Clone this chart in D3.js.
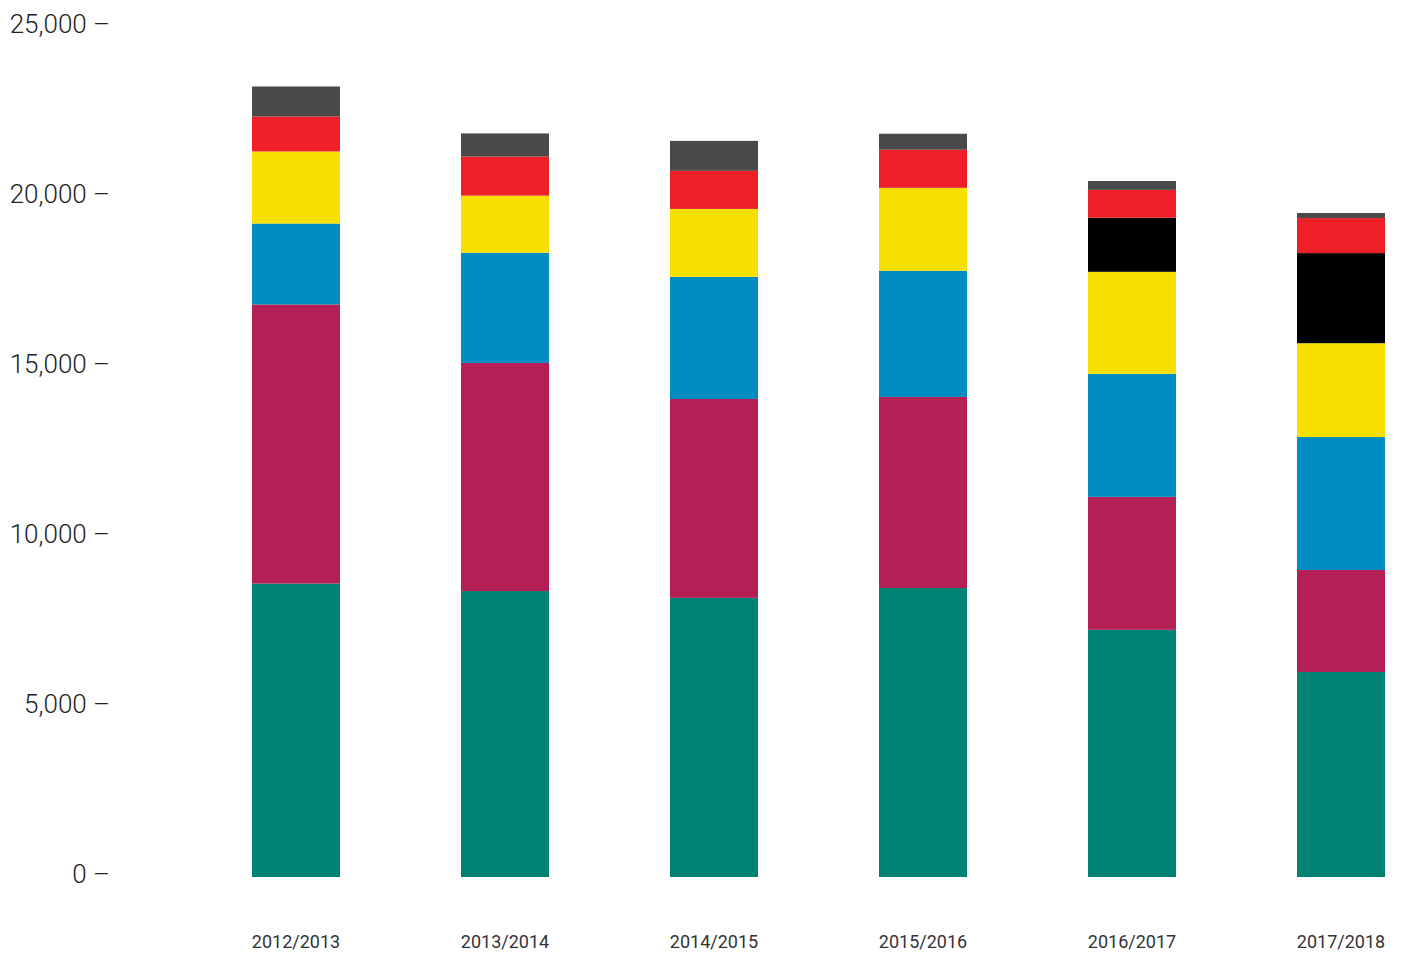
<!DOCTYPE html>
<html>
<head>
<meta charset="utf-8">
<script src="https://cdn.jsdelivr.net/npm/d3@7"></script>
<style>
  html, body { margin: 0; padding: 0; background: #fff; }
  svg { display: block; }
</style>
</head>
<body>
<svg id="chart" width="1404" height="954"></svg>
<script>
const categories = ["2012/2013", "2013/2014", "2014/2015", "2015/2016", "2016/2017", "2017/2018"];
const seriesNames = ["s1", "s2", "s3", "s4", "s5", "s6", "s7"];
const s1 = [8630, 8410, 8210, 8500, 7270, 6030];
const s2 = [8210, 6710, 5850, 5620, 3910, 3000];
const s3 = [2380, 3240, 3590, 3710, 3620, 3910];
const s4 = [2120, 1680, 2000, 2440, 3000, 2760];
const s5 = [0, 0, 0, 0, 1590, 2650];
const s6 = [1030, 1150, 1120, 1120, 820, 1030];
const s7 = [880, 680, 880, 470, 260, 150];
const colors = ["#008374", "#b41f55", "#008bc1", "#f7e000", "#000000", "#ee1f26", "#4a4a4a"];
const yTicks = [0, 5000, 10000, 15000, 20000, 25000];

const seriesValues = [s1, s2, s3, s4, s5, s6, s7];
const table = categories.map((c, i) => {
  const row = { cat: c };
  seriesNames.forEach((s, j) => row[s] = seriesValues[j][i]);
  return row;
});

const svg = d3.select("#chart");
const x = d3.scaleBand().domain(categories).range([191.5, 1445.5]).paddingInner(0.579).paddingOuter(0.2895);
const y = d3.scaleLinear().domain([0, 25000]).range([877, 27]);

const stack = d3.stack().keys(seriesNames);
const stacked = stack(table);

svg.append("g").selectAll("g").data(stacked).join("g")
  .attr("fill", (d, i) => colors[i])
  .selectAll("rect").data(d => d).join("rect")
  .attr("x", d => x(d.data.cat))
  .attr("width", x.bandwidth())
  .attr("y", d => y(d[1]))
  .attr("height", d => Math.max(0, y(d[0]) - y(d[1])));

// y axis labels
svg.append("g").selectAll("text").data(yTicks).join("text")
  .attr("x", 110)
  .attr("y", d => y(d) - 3)
  .attr("dy", "0.35em")
  .attr("text-anchor", "end")
  .attr("font-family", "Roboto, 'Liberation Sans', sans-serif")
  .attr("font-weight", 300)
  .attr("font-size", 26)
  .attr("fill", "#222")
  .text(d => d3.format(",")(d) + " –");

// x axis labels
svg.append("g").selectAll("text").data(categories).join("text")
  .attr("x", d => x(d) + x.bandwidth() / 2)
  .attr("y", 948)
  .attr("text-anchor", "middle")
  .attr("font-family", "Roboto, 'Liberation Sans', sans-serif")
  .attr("font-weight", 400)
  .attr("font-size", 18)
  .attr("fill", "#333")
  .text(d => d);
</script>
</body>
</html>
